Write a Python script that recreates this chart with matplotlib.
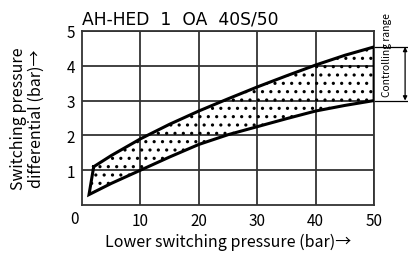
import matplotlib.pyplot as plt
import numpy as np

plt.rcParams['font.family'] = ['Noto Sans CJK JP', 'DejaVu Sans']
plt.rcParams['hatch.linewidth'] = 1.1
plt.rcParams['hatch.color'] = 'black'

# upper boundary (switch-on) and lower boundary (switch-off)
upper_x = [2, 5, 10, 15, 20, 25, 30, 35, 40, 45, 50]
upper_y = [1.1, 1.42, 1.9, 2.32, 2.70, 3.05, 3.39, 3.71, 4.02, 4.30, 4.54]
lower_x = [1.2, 5, 10, 15, 20, 25, 30, 35, 40, 45, 50]
lower_y = [0.3, 0.62, 1.0, 1.38, 1.74, 2.02, 2.25, 2.48, 2.70, 2.86, 3.0]

x_ticks = [10, 20, 30, 40, 50]
y_ticks = [1, 2, 3, 4, 5]

fig = plt.figure(figsize=(4.08, 2.55), dpi=100)
ax = fig.add_axes([0.201, 0.192, 0.716, 0.683])

# closed band: upper curve forward, lower curve back
band_x = upper_x + lower_x[::-1]
band_y = upper_y + lower_y[::-1]
ax.fill(band_x, band_y, facecolor='none', edgecolor='black', lw=0, hatch='..', zorder=2)
ax.plot(band_x + band_x[:1], band_y + band_y[:1], color='black', lw=2.2,
        solid_joinstyle='miter', zorder=3)

ax.set_xlim(0, 50)
ax.set_ylim(0, 5)
ax.set_xticks(x_ticks)
ax.set_yticks(y_ticks)
ax.tick_params(length=0, labelsize=11, pad=5)
ax.grid(True, color='#333333', lw=1.3)
ax.set_axisbelow(True)
for s in ax.spines.values():
    s.set_linewidth(1.3)
    s.set_color('#333333')
ax.text(-0.012, -0.03, '0', transform=ax.transAxes, ha='right', va='top', fontsize=11)

ax.set_xlabel('Lower switching pressure (bar)→', fontsize=11.5, labelpad=3)
ax.set_ylabel('Switching pressure\ndifferential (bar)→', fontsize=11.5, labelpad=16,
              linespacing=1.05)
fig.text(0.201, 0.925, 'AH-HED  1  OA  40S/50', ha='left', va='center',
         fontsize=12.3, family='DejaVu Sans')

# controlling range marker on the right
top, bot = upper_y[-1], lower_y[-1]
ax.plot([50, 56], [top, top], color='black', lw=0.9, clip_on=False)
ax.plot([50, 56], [bot, bot], color='black', lw=0.9, clip_on=False)
ax.annotate('', xy=(55.3, top), xytext=(55.3, bot), annotation_clip=False,
            arrowprops=dict(arrowstyle='<|-|>', color='black', lw=0.9,
                            mutation_scale=6, shrinkA=0, shrinkB=0))
ax.text(52.2, 4.34, 'Controlling range', rotation=90, ha='center', va='center',
        fontsize=7.4)

plt.savefig('out.png', dpi=100)
